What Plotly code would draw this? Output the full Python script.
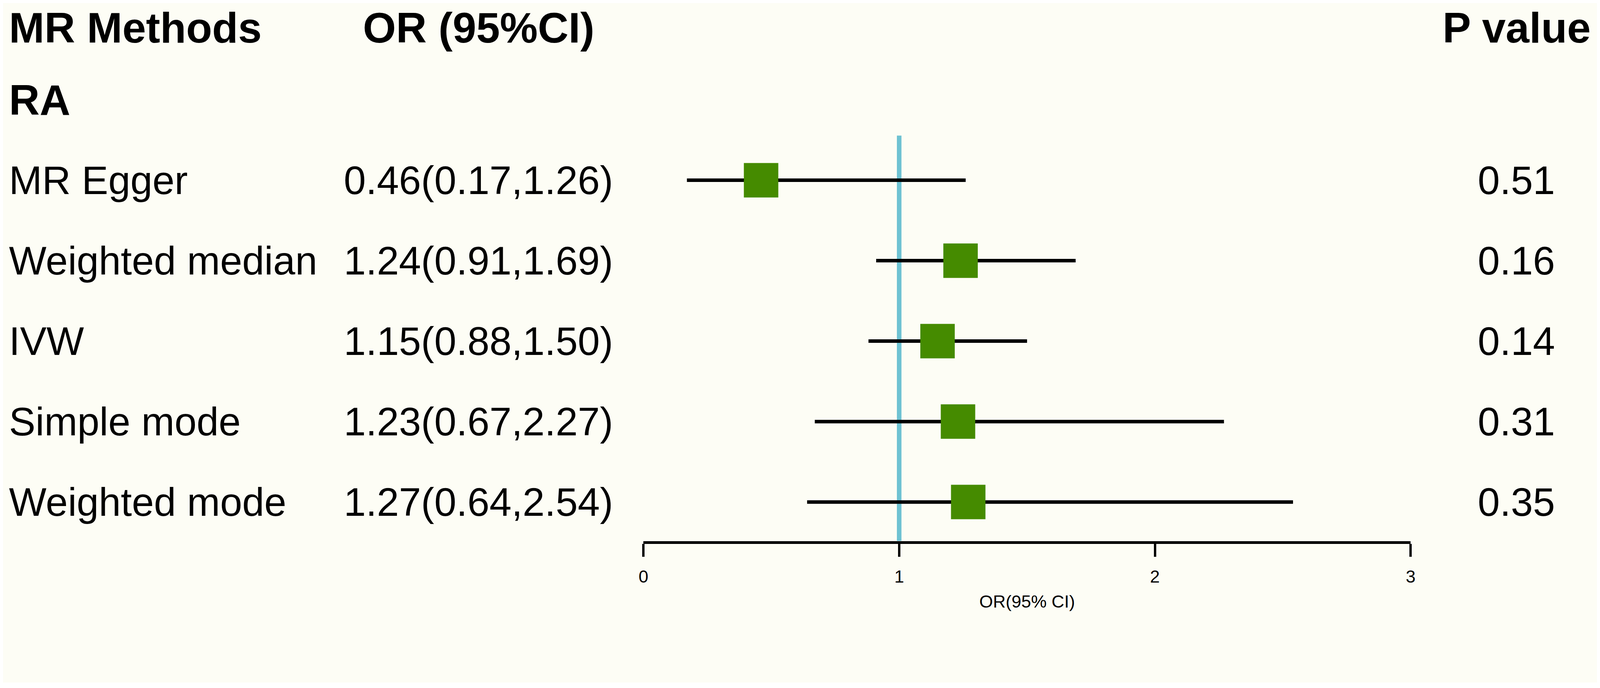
import plotly.graph_objects as go

# forest plot data
methods = ["MR Egger", "Weighted median", "IVW", "Simple mode", "Weighted mode"]
or_val = [0.46, 1.24, 1.15, 1.23, 1.27]
ci_low = [0.17, 0.91, 0.88, 0.67, 0.64]
ci_high = [1.26, 1.69, 1.50, 2.27, 2.54]
p_val = ["0.51", "0.16", "0.14", "0.31", "0.35"]
group = "RA"
x_ticks = [0, 1, 2, 3]

# positions are measured on the 4550 x 1762 reference, then scaled to the page
# (S = scale, OFF = the page's body margin that shifts the whole figure)
S = 0.8997
OFF = 8
W, H = 4080, 1740


def fx(X):  # reference pixel x -> paper fraction
    return (S * X - OFF) / W


def fy(Y):  # reference pixel y -> paper fraction
    return 1 - (S * Y - OFF) / H


bg = "#FDFDF5"
green = "#458B00"
cyan = "#6EC2D2"
font = "Liberation Sans, Arial, Helvetica, sans-serif"

# row index: 0 = header, 1 = group, 2.. = methods ; row r sits at 55 + 229*r ref px
rows = [i + 2 for i in range(len(methods))]
axis_y = 1540
y_top = (OFF / S - 55) / 229
y_bottom = (axis_y - 55) / 229

fig = go.Figure()

# reference line at OR = 1
fig.add_trace(go.Scatter(x=[1, 1], y=[1.445, y_bottom], mode="lines",
                         line=dict(color=cyan, width=13 * S), hoverinfo="skip"))

# CI lines
for lo, hi, r in zip(ci_low, ci_high, rows):
    fig.add_trace(go.Scatter(x=[lo, hi], y=[r, r], mode="lines",
                             line=dict(color="black", width=10 * S), hoverinfo="skip"))

# point estimates
fig.add_trace(go.Scatter(x=or_val, y=rows, mode="markers", hoverinfo="skip",
                         marker=dict(symbol="square", size=98 * S, color=green, line=dict(width=0))))

ann = []
bold = dict(family=font, size=121 * S, color="black")
reg = dict(family=font, size=113 * S, color="black")
col_or = fx(1356)
col_p = fx(4328)
head_y = 0.105
ann.append(dict(x=0, y=head_y, text="<b>MR Methods</b>", xanchor="left", font=bold))
ann.append(dict(x=col_or, y=head_y, text="<b>OR (95%CI)</b>", xanchor="center", font=bold))
ann.append(dict(x=col_p, y=head_y, text="<b>P value</b>", xanchor="center", font=bold))
ann.append(dict(x=0, y=1, text="<b>" + group + "</b>", xanchor="left", font=bold))
for m, o, lo, hi, p, r in zip(methods, or_val, ci_low, ci_high, p_val, rows):
    ann.append(dict(x=0, y=r, text=m, xanchor="left", font=reg))
    ann.append(dict(x=col_or, y=r, text="%.2f(%.2f,%.2f)" % (o, lo, hi), xanchor="center", font=reg))
    ann.append(dict(x=col_p, y=r, text=p, xanchor="center", font=reg))
for a in ann:
    a.update(xref="paper", yref="y", yanchor="middle", showarrow=False)

# axis title
ann.append(dict(x=fx((1828 + 4025) / 2), y=fy(1712), xref="paper", yref="paper",
                text="OR(95% CI)", showarrow=False, xanchor="center", yanchor="middle",
                font=dict(family=font, size=50 * S, color="black")))

fig.update_layout(
    width=W, height=H,
    margin=dict(l=0, r=0, t=0, b=0),
    paper_bgcolor=bg, plot_bgcolor=bg,
    showlegend=False,
    annotations=ann,
    xaxis=dict(domain=[fx(1828), fx(4025)], range=[0, 3], tickvals=x_ticks,
               showline=True, linecolor="black", linewidth=8 * S,
               ticks="outside", ticklen=37 * S, tickwidth=7 * S, tickcolor="black",
               ticklabelstandoff=12,
               tickfont=dict(family=font, size=50 * S, color="black"),
               showgrid=False, zeroline=False, fixedrange=True),
    yaxis=dict(domain=[fy(axis_y), 1], range=[y_bottom, y_top],
               visible=False, showgrid=False, zeroline=False, fixedrange=True),
)

fig.write_html("out.html")
